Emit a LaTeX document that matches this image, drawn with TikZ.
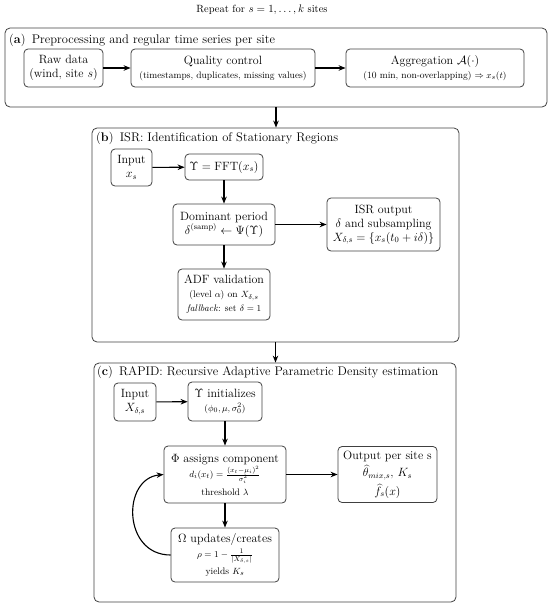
\documentclass[tikz,border=0pt]{standalone}
\usetikzlibrary{arrows.meta}
\begin{document}
\begin{tikzpicture}[x=1pt,y=-1pt,
  outer/.style={draw=black!75,line width=0.8pt,rounded corners=5pt,inner sep=0pt},
  box/.style={draw=black!75,line width=0.8pt,rounded corners=4pt,inner sep=0pt,align=center,
    font=\fontsize{12}{14}\selectfont},
  ttl/.style={anchor=west,inner sep=0pt,font=\fontsize{12.5}{15}\selectfont},
  arr/.style={-{Stealth[length=7pt,width=5.5pt]},line width=1.1pt},
]
\useasboundingbox (0,0) rectangle (550,606);
\newcommand{\sm}{\fontsize{9.5}{12}\selectfont}

\node[inner sep=0pt,font=\fontsize{10.5}{12}\selectfont] (rep) at (262,10) {Repeat for $s=1,\ldots,k$ sites};

% (a)
\node[outer,minimum width=542pt,minimum height=79pt] (A) at (276,67.5) {};
\node[ttl] (At) at (9,40) {(\textbf{a})\enspace Preprocessing and regular time series per site};
\node[box,minimum width=79pt,minimum height=38pt] (raw) at (63.5,68) {Raw data\\(wind, site $s$)};
\node[box,minimum width=184pt,minimum height=38pt] (qc) at (223,68) {Quality control\\{\sm(timestamps, duplicates, missing values)}};
\node[box,minimum width=178pt,minimum height=38pt] (agg) at (435,68) {Aggregation $\mathcal{A}(\cdot)$\\{\sm(10 min, non-overlapping) $\Rightarrow x_s(t)$}};
\draw[arr] (raw) -- (qc);
\draw[arr] (qc) -- (agg);

% (b)
\node[outer,minimum width=367pt,minimum height=214pt] (B) at (275.5,235) {};
\node[ttl] (Bt) at (96,138) {(\textbf{b})\enspace ISR: Identification of Stationary Regions};
\node[box,minimum width=41pt,minimum height=37pt] (bin) at (131.5,167.5) {Input\\$x_s$};
\node[box,minimum width=78pt,minimum height=26pt] (fft) at (224,167) {$\Upsilon=\mathrm{FFT}(x_s)$};
\node[box,minimum width=102pt,minimum height=41pt] (dom) at (224,224.5) {Dominant period\\$\delta^{(\mathrm{samp})}\leftarrow\Psi(\Upsilon)$};
\node[box,minimum width=113pt,minimum height=53pt] (isr) at (383.5,224.5) {ISR output\\$\delta$ and subsampling\\$X_{\delta,s}=\{x_s(t_0+i\delta)\}$};
\node[box,minimum width=92pt,minimum height=51pt] (adf) at (224,294.5) {ADF validation\\{\sm(level $\alpha$) on $X_{\delta,s}$}\\{\sm\textit{fallback}: set $\delta=1$}};
\draw[arr] (bin) -- (fft);
\draw[arr] (fft) -- (dom);
\draw[arr] (dom) -- (isr);
\draw[arr] (dom) -- (adf);

% (c)
\node[outer,minimum width=362pt,minimum height=239pt] (C) at (275,482.5) {};
\node[ttl] (Ct) at (97,372) {(\textbf{c})\enspace RAPID: Recursive Adaptive Parametric Density estimation};
\node[box,minimum width=42pt,minimum height=38pt] (cin) at (135,402) {Input\\$X_{\delta,s}$};
\node[box,minimum width=74pt,minimum height=39pt] (ini) at (225,401.5) {$\Upsilon$ initializes\\{\sm$(\phi_0,\mu,\sigma_0^2)$}};
\node[box,minimum width=122pt,minimum height=57pt] (phi) at (225,474.5) {$\Phi$ assigns component\\[1pt]{\sm$d_i(x_t)=\frac{(x_t-\mu_i)^2}{\sigma_i^2}$}\\[4pt]{\sm threshold $\lambda$}};
\node[box,minimum width=99pt,minimum height=56pt] (out) at (387.5,474.5) {Output per site s\\[3pt]$\widehat{\theta}_{mix,s}$, $K_s$\\[3pt]$\widehat{f}_s(x)$};
\node[box,minimum width=108pt,minimum height=54pt] (om) at (225,555) {$\Omega$ updates/creates\\[1pt]{\sm$\rho=1-\frac{1}{|X_{\delta,s}|}$}\\[3pt]{\sm yields $K_s$}};
\draw[arr] (cin) -- (ini);
\draw[arr] (ini) -- (phi);
\draw[arr] (phi) -- (out);
\draw[arr] (phi) -- (om);
\draw[arr] (om.west) .. controls +(-48,0) and +(-42,4) .. (phi.west);

\draw[arr] (A.south) -- (A.south |- B.north);
\draw[arr] (B.south) -- (B.south |- C.north);
\end{tikzpicture}
\end{document}
